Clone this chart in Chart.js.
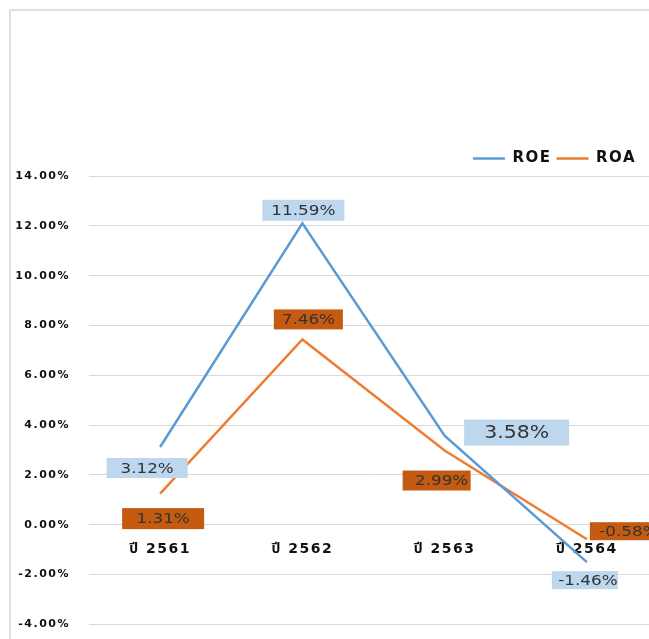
<!DOCTYPE html>
<html>
<head>
<meta charset="utf-8">
<script src="https://cdn.jsdelivr.net/npm/chart.js@4.4.0/dist/chart.umd.min.js"></script>
<style>
  html, body { margin: 0; padding: 0; background: #fff; width: 649px; height: 639px; overflow: hidden; }
  #frame { position: absolute; left: 9px; top: 9px; width: 700px; height: 700px; border: 2px solid #e0e0e0; box-sizing: border-box; }
  #wrap { position: absolute; left: 0; top: 0; width: 670px; height: 650px; }
</style>
</head>
<body>
<div id="frame"></div>
<div id="wrap"><canvas id="ratioChart"></canvas></div>
<script>
  // values as plotted (the line marks) and the text printed in the value boxes
  const years = ['ปี 2561', 'ปี 2562', 'ปี 2563', 'ปี 2564'];
  const roe = [3.12, 12.1, 3.58, -1.5];
  const roa = [1.25, 7.44, 2.98, -0.58];
  const roeText = ['3.12%', '11.59%', '3.58%', '-1.46%'];
  const roaText = ['1.31%', '7.46%', '2.99%', '-0.58%'];
  const yMin = -4, yMax = 14, yStep = 2;

  // where each value box sits relative to its point (pixels)
  const boxLayout = [
    [{ dx: -13, dy: 21, w: 81, h: 20 }, { dx: 1, dy: -13, w: 82, h: 21 }, { dx: 72, dy: -3, w: 105, h: 26, size: 17 }, { dx: -2, dy: 18, w: 66, h: 18, tx: 3 }],
    [{ dx: 3, dy: 25, w: 82, h: 21 }, { dx: 6, dy: -20, w: 69, h: 20 }, { dx: -8, dy: 30, w: 68, h: 20, tx: 5 }, { dx: 37, dy: -8, w: 68, h: 18, tx: 5 }]
  ];

  const FONT = '"DejaVu Sans", "Noto Sans Thai", "Noto Sans", sans-serif';
  const SPACING = '1.5px';

  const valueBoxes = {
    id: 'valueBoxes',
    beforeUpdate(chart) { chart.ctx.letterSpacing = SPACING; },
    afterLayout(chart) {
      // legend sits a little in from the right edge of the plot
      chart.legend.left -= 17;
      chart.legend.right -= 17;
    },
    beforeDraw(chart) { chart.ctx.letterSpacing = SPACING; },
    beforeDatasetsDraw(chart) { chart.ctx.letterSpacing = '0px'; },
    afterDatasetsDraw(chart) {
      const ctx = chart.ctx;
      chart.data.datasets.forEach((ds, di) => {
        chart.getDatasetMeta(di).data.forEach((pt, i) => {
          const b = boxLayout[di][i];
          const cx = pt.x + b.dx, cy = pt.y + b.dy;
          ctx.save();
          ctx.fillStyle = ds.boxColor;
          ctx.fillRect(cx - b.w / 2, cy - b.h / 2, b.w, b.h);
          ctx.font = (b.size || 14) + 'px ' + FONT;
          ctx.fillStyle = '#333';
          ctx.textAlign = 'center';
          ctx.textBaseline = 'middle';
          ctx.translate(cx + (b.tx || 0), cy + 1);
          ctx.scale(1.2, 1);
          ctx.fillText(ds.valueText[i], 0, 0);
          ctx.restore();
        });
      });
      ctx.letterSpacing = SPACING;
    }
  };

  new Chart(document.getElementById('ratioChart'), {
    type: 'line',
    data: {
      labels: years,
      datasets: [
        { label: 'ROE', data: roe, valueText: roeText, boxColor: '#BDD7EE',
          borderColor: '#5B9BD5', backgroundColor: '#5B9BD5', borderWidth: 2.5, pointRadius: 0, tension: 0 },
        { label: 'ROA', data: roa, valueText: roaText, boxColor: '#C55A11',
          borderColor: '#ED7D31', backgroundColor: '#ED7D31', borderWidth: 2.5, pointRadius: 0, tension: 0 }
      ]
    },
    options: {
      responsive: true,
      maintainAspectRatio: false,
      animation: false,
      layout: { padding: { top: 146, right: 12, bottom: 5, left: 0 } },
      plugins: {
        legend: {
          position: 'top',
          align: 'end',
          labels: {
            usePointStyle: true, pointStyle: 'line', pointStyleWidth: 32,
            padding: 5, color: '#111',
            font: { family: FONT, size: 15, weight: 'bold' }
          }
        },
        tooltip: { enabled: false }
      },
      scales: {
        x: {
          type: 'category',
          offset: true,
          position: { y: 0 },
          grid: { display: false, drawTicks: false },
          border: { display: false },
          ticks: { color: '#111', padding: 16, maxRotation: 0, autoSkip: false,
                   font: { family: FONT, size: 14, weight: 'bold' } }
        },
        y: {
          min: yMin, max: yMax,
          grid: { color: '#d9d9d9', lineWidth: 1, drawTicks: false },
          border: { display: false },
          ticks: { stepSize: yStep, color: '#111', padding: 19,
                   font: { family: FONT, size: 11, weight: 'bold' },
                   callback: v => v.toFixed(2) + '%' },
          afterFit(scale) { scale.width = 89; }
        }
      }
    },
    plugins: [valueBoxes]
  });
</script>
</body>
</html>
